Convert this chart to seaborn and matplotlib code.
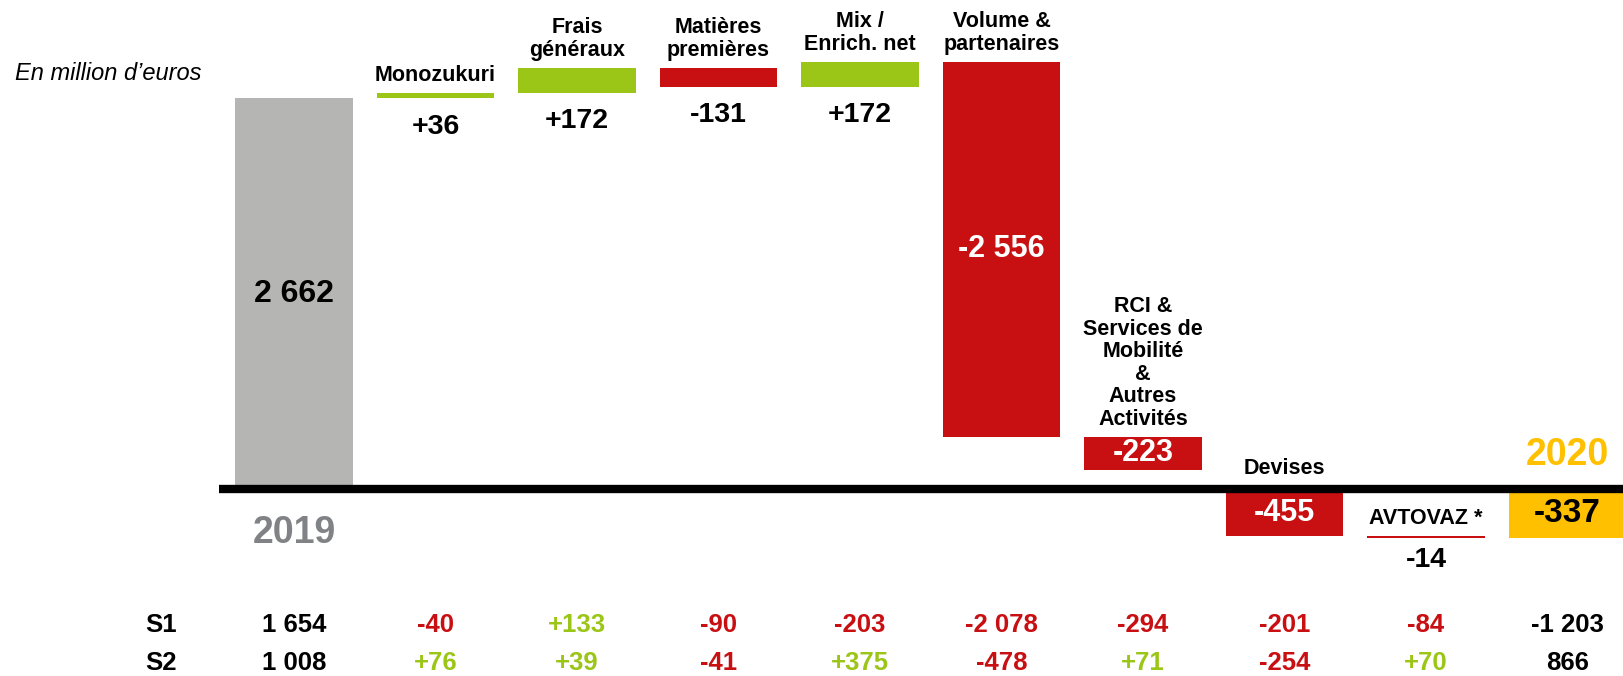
import numpy as np
import pandas as pd
import matplotlib
matplotlib.use("Agg")
import matplotlib.pyplot as plt
import seaborn as sns

# -------- data --------
categories = ["2019", "Monozukuri", "Frais\ngénéraux", "Matières\npremières",
              "Mix /\nEnrich. net", "Volume &\npartenaires",
              "RCI &\nServices de\nMobilité\n&\nAutres\nActivités",
              "Devises", "AVTOVAZ *", "2020"]
start_value = 2662
deltas = [36, 172, -131, 172, -2556, -223, -455, -14]
end_value = -337
s1 = [1654, -40, 133, -90, -203, -2078, -294, -201, -84, -1203]
s2 = [1008, 76, 39, -41, 375, -478, 71, -254, 70, 866]

GREY = "#B5B5B3"
GREEN = "#9BC617"
RED = "#C80F12"
YELLOW = "#FFC000"
GREY_TXT = "#808285"


def fmt(v, signed=True):
    s = f"{abs(v):,}".replace(",", " ")
    if v < 0:
        return "-" + s
    return "+" + s if signed else s


sns.set_theme(style="white")
plt.rcParams['font.family'] = ['Liberation Sans', 'DejaVu Sans']

# waterfall spans
steps = [start_value] + deltas
ends = list(np.cumsum(steps)) + [end_value]
starts = list(np.cumsum(steps) - np.array(steps)) + [0]
values = steps + [end_value]
lows = np.minimum(starts, ends).astype(float)
highs = np.maximum(starts, ends).astype(float)
# bars crossing zero are drawn from the baseline
highs = np.where((lows < 0) & (highs > 0), 0, highs)

colors = [GREY] + [GREEN if d > 0 else RED for d in deltas] + [YELLOW]
df = pd.DataFrame({"cat": categories, "height": highs - lows})

fig, ax = plt.subplots(figsize=(16.24, 6.76), dpi=100)
ax.set_position([0, 0, 1, 1])
sns.barplot(data=df, x="cat", y="height", order=categories, color=GREY,
            width=0.83, errorbar=None, linewidth=0, ax=ax)
for p, lo, c in zip(ax.patches, lows, colors):
    p.set_y(lo)
    p.set_facecolor(c)

n = len(categories)
ax.hlines(0, -0.53, n + 0.5, color="black", lw=6, zorder=3)

bold = dict(fontweight="bold", ha="center")
for i in range(n):
    lo, hi, v = lows[i], highs[i], values[i]
    if i == 0:
        ax.text(i, (lo + hi) / 2, fmt(v, False), va="center", fontsize=23,
                color="black", **bold)
        ax.annotate(categories[i], (i, 0), xytext=(0, -19), textcoords="offset points",
                    va="top", fontsize=27, color=GREY_TXT, **bold)
        continue
    if i == n - 1:
        ax.text(i, (lo + hi) / 2, fmt(v), va="center", fontsize=24,
                color="black", **bold)
        ax.annotate(categories[i], (i, 0), xytext=(0, 17), textcoords="offset points",
                    va="baseline", fontsize=27, color=YELLOW, **bold)
        continue
    off = 5 + (2 if hi == 0 else 0)
    ax.annotate(categories[i], (i, hi), xytext=(0, off), textcoords="offset points",
                va="bottom", fontsize=15.5, linespacing=1.1, color="black", **bold)
    if abs(v) >= 200:
        ax.text(i, (lo + hi) / 2, fmt(v), va="center", fontsize=22,
                color="white", **bold)
    else:
        below = -6 if hi - lo < 20 else -11
        ax.annotate(fmt(v), (i, lo), xytext=(0, below), textcoords="offset points",
                    va="top", fontsize=20.5, color="black", **bold)

# S1 / S2 table
trans = ax.get_xaxis_transform()
for row, yy, name in [(s1, 0.076, "S1"), (s2, 0.019, "S2")]:
    ax.text(-0.94, yy, name, transform=trans, va="center", fontsize=18.5,
            color="black", **bold)
    for i, v in enumerate(row):
        if i == 0 or i == n - 1:
            txt, c = fmt(v, False), "black"
        else:
            txt, c = fmt(v), GREEN if v > 0 else RED
        ax.text(i, yy, txt, transform=trans, va="center", fontsize=18.5,
                color=c, **bold)

ax.text(0.0095, 0.891, "En million d\u2019euros", transform=ax.transAxes,
        ha="left", va="center", fontsize=17, fontstyle="italic", color="black")

ax.set_xlim(-2.078, 9.40)
ax.set_ylim(-1275, 3333)
ax.axis("off")

fig.savefig("out.png", dpi=100)
